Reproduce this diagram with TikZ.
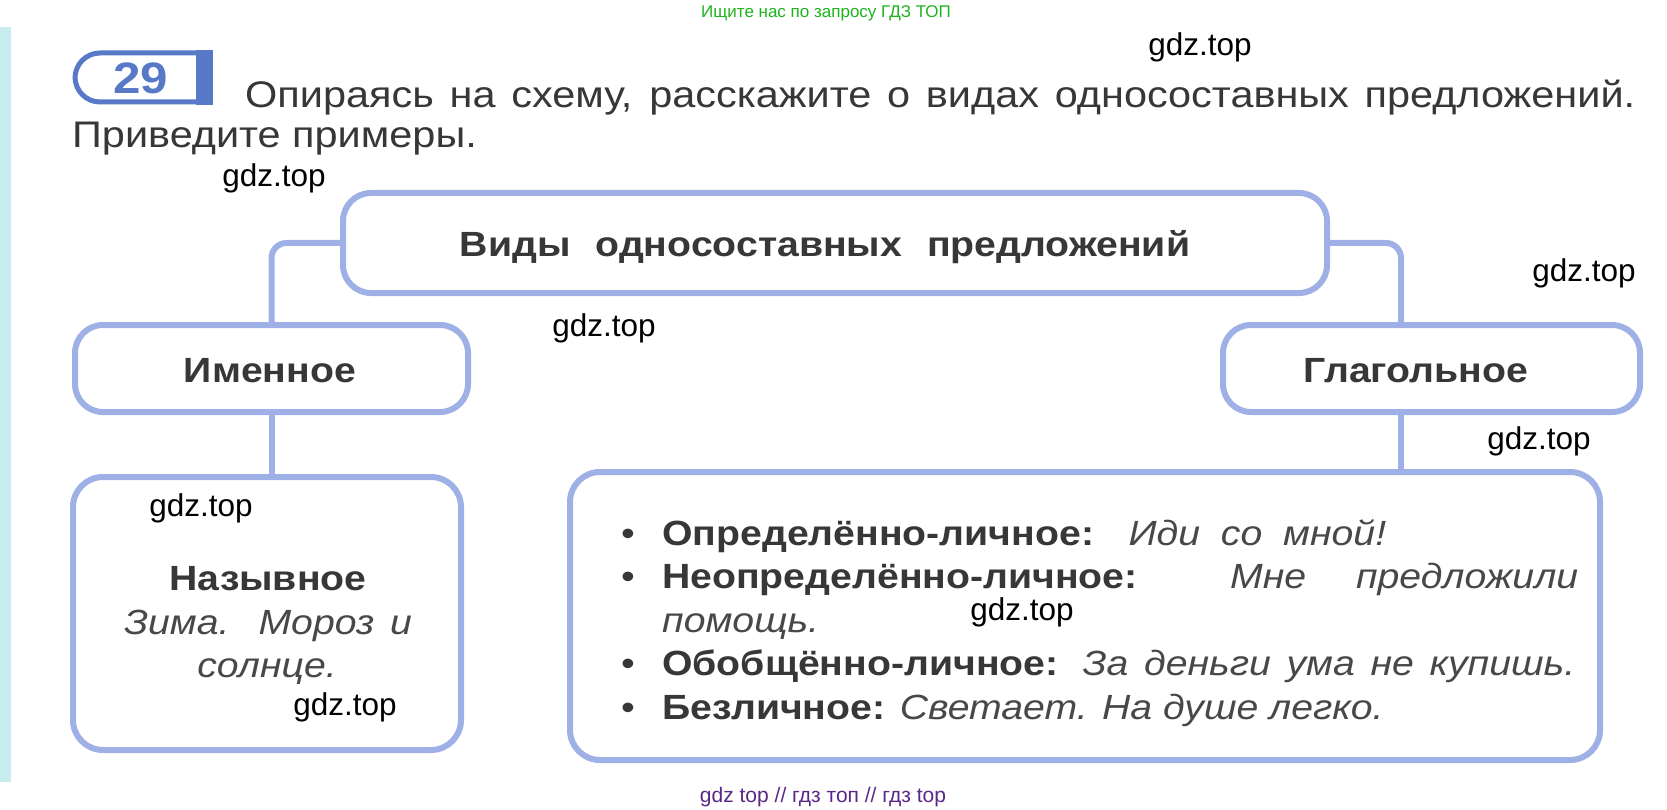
\documentclass[tikz,border=0pt]{standalone}
\usepackage{fontspec}
\setmainfont{Liberation Sans}[FakeStretch=1.12]
\newfontfamily\wmf{Liberation Sans}
\definecolor{boxc}{RGB}{158,176,229}
\definecolor{badgec}{RGB}{88,120,200}
\definecolor{txtc}{RGB}{55,55,55}
\definecolor{itc}{RGB}{72,72,72}
\definecolor{stripc}{RGB}{200,236,238}
\definecolor{greenc}{RGB}{30,180,30}
\definecolor{purplec}{RGB}{90,40,135}
\begin{document}
\begin{tikzpicture}[x=1pt,y=-1pt,
  box/.style={draw=boxc, line width=6pt, rounded corners=28pt, inner sep=0pt, fill=white},
  conn/.style={draw=boxc, line width=6pt, rounded corners=15pt},
  lbl/.style={inner sep=0pt, anchor=base, text=txtc, font=\fontsize{35}{42}\selectfont\bfseries},
  body/.style={inner sep=0pt, anchor=base west, text=txtc, font=\fontsize{35}{42}\selectfont},
  ex/.style={inner sep=0pt, anchor=base, text=itc, font=\fontsize{35}{42}\selectfont\itshape},
  wm/.style={inner sep=0pt, text=black, font=\wmf\fontsize{31.5}{31.5}\selectfont},
  bul/.style={inner sep=0pt, anchor=base, text=txtc, font=\fontsize{35}{42}\selectfont}
]
\useasboundingbox (0,0) rectangle (1667,810);
\fill[white] (0,0) rectangle (1667,810);
\fill[stripc] (0,27) rectangle (11,782);

% top notes
\node[inner sep=0pt, text=greenc, font=\wmf\fontsize{17}{17}\selectfont] (note) at (826,13) {Ищите нас по запросу ГДЗ ТОП};
\node[inner sep=0pt, text=purplec, font=\wmf\fontsize{21}{21}\selectfont] (foot) at (823,797) {gdz top // гдз топ // гдз top};

% badge
\path[draw=badgec, line width=5pt, fill=white, rounded corners=25pt] (200,53) -- (75,53) -- (75,102) -- (200,102);
\fill[badgec] (196,50) rectangle (213,105);
\node[inner sep=0pt, text=badgec, font=\fontsize{44}{44}\selectfont\bfseries] (num) at (141,78) {29};

% header
\node[body, font=\fontsize{37}{44}\selectfont] (h1) at (245,108) {\makebox[1390pt][s]{Опираясь на схему, расскажите о видах односоставных предложений.}};
\node[body, font=\fontsize{37}{44}\selectfont] (h2) at (72,148) {Приведите примеры.};

% boxes
\node[box, minimum width=984pt, minimum height=100pt] (top) at (835,243) {};
\node[box, minimum width=393pt, minimum height=87pt] (imen) at (271.5,368.5) {};
\node[box, minimum width=417pt, minimum height=87pt] (glag) at (1431.5,368.5) {};
\node[box, rounded corners=30pt, minimum width=388pt, minimum height=273pt] (naz) at (267,613.5) {};
\node[box, rounded corners=30pt, minimum width=1030pt, minimum height=288pt] (big) at (1085,616) {};

\coordinate (rj) at (1401,0);
\draw[conn] (top.west) -| (imen.north);
\draw[conn] (top.east) -| (rj |- glag.north);
\draw (imen.south) edge[conn] (imen.south |- naz.north);
\draw (glag.south -| rj) edge[conn] (big.north -| rj);

% labels
\node[lbl] (toplbl) at (825,257) {Виды\hspace{0.4em} односоставных\hspace{0.4em} предложений};
\node[lbl] (imenlbl) at (270,382) {Именное};
\node[lbl] (glaglbl) at (1416,382) {Глагольное};

% left lower box text
\node[lbl] (nazlbl) at (268,590) {Назывное};
\node[ex] (naz1) at (268,634) {\makebox[288pt][s]{Зима. Мороз и}};
\node[ex] (naz2) at (267,677) {солнце.};

% big box text
\node[bul] (b1) at (628,545) {•};
\node[bul] (b2) at (628,588.5) {•};
\node[bul] (b4) at (628,675.5) {•};
\node[bul] (b5) at (628,719) {•};
\node[body] (l1) at (662,545) {\makebox[724pt][s]{\textbf{Определённо-личное:} \textit{\color{itc}Иди со мной!}}};
\node[body] (l2) at (662,588.5) {\makebox[916pt][s]{\textbf{Неопределённо-личное:} \textit{\color{itc}Мне} \textit{\color{itc}предложили}}};
\node[body] (l3) at (662,632) {\textit{\color{itc}помощь.}};
\node[body] (l4) at (662,675.5) {\makebox[913pt][s]{\textbf{Обобщённо-личное:} \textit{\color{itc}За деньги ума не купишь.}}};
\node[body] (l5) at (662,719) {\textbf{Безличное:} \textit{\color{itc}Светает. На душе легко.}};

% watermarks
\node[wm] (w1) at (1200,47) {gdz.top};
\node[wm] (w2) at (274,178) {gdz.top};
\node[wm] (w3) at (604,328) {gdz.top};
\node[wm] (w4) at (1584,273) {gdz.top};
\node[wm] (w5) at (1539,441) {gdz.top};
\node[wm] (w6) at (201,508) {gdz.top};
\node[wm] (w7) at (1022,612) {gdz.top};
\node[wm] (w8) at (345,707) {gdz.top};
\end{tikzpicture}
\end{document}
